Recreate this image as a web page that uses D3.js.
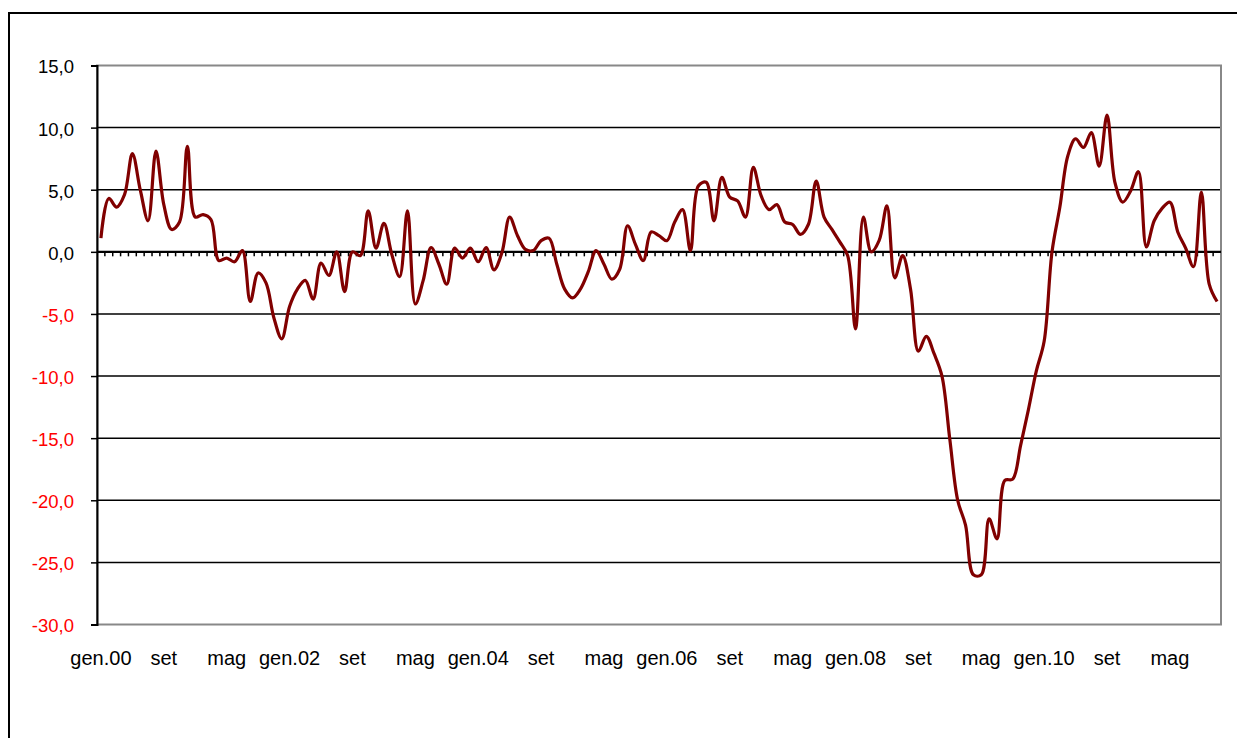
<!DOCTYPE html>
<meta charset="utf-8">
<style>
body { margin: 0; background: #fff; }
text { font-family: "Liberation Sans", Arial, sans-serif; }
.grid line { stroke: #000; stroke-width: 1.5px; }
</style>
<svg width="1237" height="738"></svg>
<script src="https://d3js.org/d3.v7.min.js"></script>
<script>

// monthly % change, gen.2000 - nov.2011
var monthAbbr = ["gen","feb","mar","apr","mag","giu","lug","ago","set","ott","nov","dic"];
var years = ["00","01","02","03","04","05","06","07","08","09","10","11"];

var values = [
   1.1,  4.3,  3.6,  4.6,  7.9,  5.0,  2.5,  8.1,  3.8,  1.8,  2.4,  8.5,
   2.8,  3.0,  2.6, -0.7, -0.5, -0.8,  0.1, -4.0, -1.7, -2.5, -5.3, -7.0,
  -4.4, -3.0, -2.3, -3.8, -0.9, -1.9,  0.0, -3.2,  0.0, -0.3,  3.3,  0.3,
   2.3, -0.2, -2.0,  3.3, -4.2, -2.3,  0.35,-1.0, -2.6,  0.3, -0.5,  0.3,
  -0.8,  0.35,-1.45,-0.1,  2.8,  1.3,  0.2,  0.1,  0.9,  1.1, -1.0, -3.0,
  -3.7, -3.0, -1.6,  0.1, -1.0, -2.2, -1.4,  2.1,  0.6, -0.7,  1.6,  1.3,
   0.9,  2.4,  3.4,  0.1,  5.3,  5.6,  2.5,  6.0,  4.4,  4.1,  2.8,  6.8,
   4.5,  3.4,  3.8,  2.4,  2.2,  1.4,  2.2,  5.7,  2.8,  1.8,  0.8, -0.3,
  -6.2,  2.8,  0.0,  0.9,  3.7, -2.1, -0.3, -3.0, -8.0, -6.8, -8.2,-10.0,
 -15.1,-20.0,-22.0,-26.0,-26.0,-21.5,-23.1,-18.4,-18.3,-15.6,-12.7, -9.6,
  -7.2,  0.0,  3.6,  7.7,  9.1,  8.4,  9.6,  6.9, 11.0,  5.6,  4.0,  4.9,
   6.45, 0.4,  2.5,  3.5,  4.0,  1.6,  0.3, -1.2,  4.8, -2.6, -4.0
];

var categories = values.map(function(v, i) {
  return monthAbbr[i % 12] + "." + years[Math.floor(i / 12)];
});

var tickLabels = ["gen.00","set","mag","gen.02","set","mag","gen.04","set","mag",
                  "gen.06","set","mag","gen.08","set","mag","gen.10","set","mag"];
var labelEvery = 8;

var yTicks = [15, 10, 5, 0, -5, -10, -15, -20, -25, -30];

var svg = d3.select("svg"),
    plotLeft = 97, plotRight = 1221, plotTop = 65.5, plotBottom = 624.5;

// outer chart frame (runs off the picture on right and bottom)
svg.append("rect")
    .attr("x", 9).attr("y", 13)
    .attr("width", 1260).attr("height", 760)
    .attr("fill", "#fff")
    .attr("stroke", "#000")
    .attr("stroke-width", 2);

var x = d3.scalePoint()
    .domain(categories)
    .range([plotLeft, plotRight])
    .padding(0.5);

var y = d3.scaleLinear()
    .domain([-30, 15])
    .range([plotBottom, plotTop]);

// gridlines
svg.append("g")
    .attr("class", "grid")
  .selectAll("line")
  .data(yTicks.filter(function(d) { return d < 15 && d > -30; }))
  .enter().append("line")
    .attr("x1", plotLeft).attr("x2", plotRight)
    .attr("y1", function(d) { return y(d); })
    .attr("y2", function(d) { return y(d); });

// plot area border
svg.append("rect")
    .attr("x", plotLeft).attr("y", plotTop)
    .attr("width", plotRight - plotLeft).attr("height", plotBottom - plotTop)
    .attr("fill", "none")
    .attr("stroke", "#888")
    .attr("stroke-width", 2);

// y axis
var yAxis = svg.append("g")
    .attr("transform", "translate(" + plotLeft + ",0)")
    .call(d3.axisLeft(y)
        .tickValues(yTicks)
        .tickSize(6)
        .tickPadding(17)
        .tickFormat(function(d) { return d3.format(".1f")(d).replace(".", ",").replace("\u2212", "-"); }));
yAxis.select(".domain").attr("stroke", "#000").attr("stroke-width", 2);
yAxis.selectAll(".tick line").attr("stroke", "#000").attr("stroke-width", 1.5);
yAxis.selectAll(".tick text")
    .attr("font-size", "18.5px")
    .attr("font-family", "'Liberation Sans', Arial, sans-serif")
    .attr("dy", "0.4em")
    .attr("fill", function(d) { return d < 0 ? "#ff0000" : "#000"; });

// category axis crossing at zero
var step = x.step();
var zero = svg.append("g");
zero.selectAll("line.mt")
    .data(categories.slice(1))
  .enter().append("line")
    .attr("x1", function(d) { return x(d) - step / 2; })
    .attr("x2", function(d) { return x(d) - step / 2; })
    .attr("y1", y(0))
    .attr("y2", y(0) + 4.5)
    .attr("stroke", "#000")
    .attr("stroke-width", 1.5);
zero.append("line")
    .attr("x1", plotLeft).attr("x2", plotRight)
    .attr("y1", y(0)).attr("y2", y(0))
    .attr("stroke", "#000")
    .attr("stroke-width", 2.2);

// x labels, one every 8 months
svg.append("g")
  .selectAll("text")
  .data(tickLabels)
  .enter().append("text")
    .attr("x", function(d, i) { return x(categories[i * labelEvery]); })
    .attr("y", 665)
    .attr("text-anchor", "middle")
    .attr("font-size", "20px")
    .attr("fill", "#000")
    .text(function(d) { return d; });

// the series
var line = d3.line()
    .x(function(d, i) { return x(categories[i]); })
    .y(function(d) { return y(d); })
    .curve(d3.curveCatmullRom);

svg.append("path")
    .datum(values)
    .attr("d", line)
    .attr("fill", "none")
    .attr("stroke", "#800000")
    .attr("stroke-width", 3.2)
    .attr("stroke-linejoin", "round");

</script>
